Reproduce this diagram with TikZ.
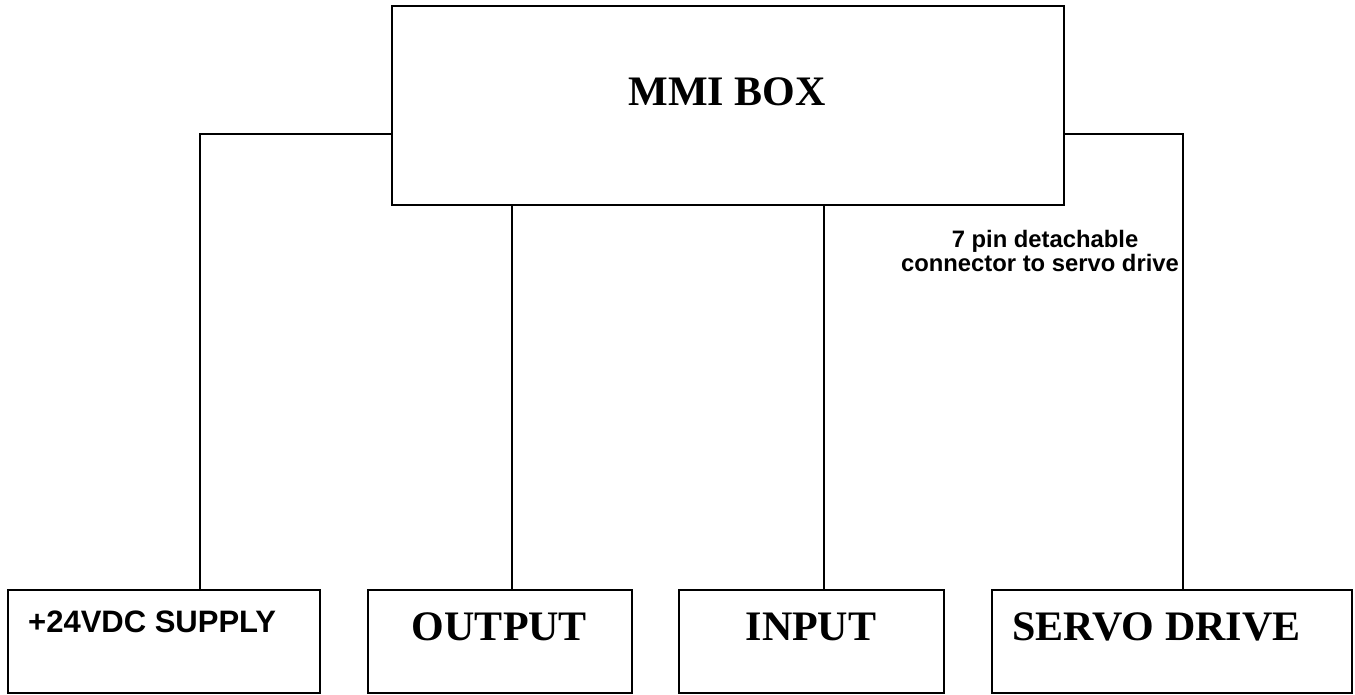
\documentclass[tikz,border=0pt]{standalone}
\usepackage{fontspec}
\setmainfont{Liberation Serif}
\newfontfamily\sansb{Liberation Sans}
\begin{document}
\begin{tikzpicture}[x=1pt,y=-1pt,
  box/.style={draw=black, line width=2pt, rectangle, inner sep=0pt},
  wire/.style={draw=black, line width=2pt},
  bigtxt/.style={anchor=base, inner sep=0pt, font=\fontsize{42}{48}\selectfont\bfseries},
  sanstxt/.style={anchor=base, inner sep=0pt, font=\sansb\fontsize{31}{36}\selectfont\bfseries},
  smalltxt/.style={anchor=base, inner sep=0pt, font=\sansb\fontsize{23.8}{28}\selectfont\bfseries}]
\useasboundingbox (0,0) rectangle (1355,694);
% boxes
\node[box, minimum width=672.5pt, minimum height=199pt] (mmi) at (727.75,105.5) {};
\node[box, minimum width=312.5pt, minimum height=102.5pt] (supply) at (163.75,641.25) {};
\node[box, minimum width=264.5pt, minimum height=102.5pt] (output) at (499.75,641.25) {};
\node[box, minimum width=264.5pt, minimum height=102.5pt] (input) at (811.25,641.25) {};
\node[box, minimum width=360pt, minimum height=102.5pt] (servo) at (1172,641.25) {};
% texts
\node[bigtxt] (tmmi) at (727,105) {MMI BOX};
\node[bigtxt] (tout) at (499.5,640.5) {OUTPUT};
\node[bigtxt] (tin) at (811,640) {INPUT};
\node[bigtxt, anchor=base west] (tservo) at (1012,640) {SERVO DRIVE};
\node[sanstxt, anchor=base west] (tsupply) at (28,632) {+24VDC SUPPLY};
\node[smalltxt] (tpin1) at (1045,247.5) {7 pin detachable};
\node[smalltxt] (tpin2) at (1040,271) {connector to servo drive};
% connectors
\draw[wire] (mmi.west |- 0,134) -| (supply.north -| 200,0);
\draw[wire] (mmi.south -| 512,0) -- (output.north -| 512,0);
\draw[wire] (mmi.south -| 824,0) -- (input.north -| 824,0);
\draw[wire] (mmi.east |- 0,134) -| (servo.north -| 1183,0);
\end{tikzpicture}
\end{document}
